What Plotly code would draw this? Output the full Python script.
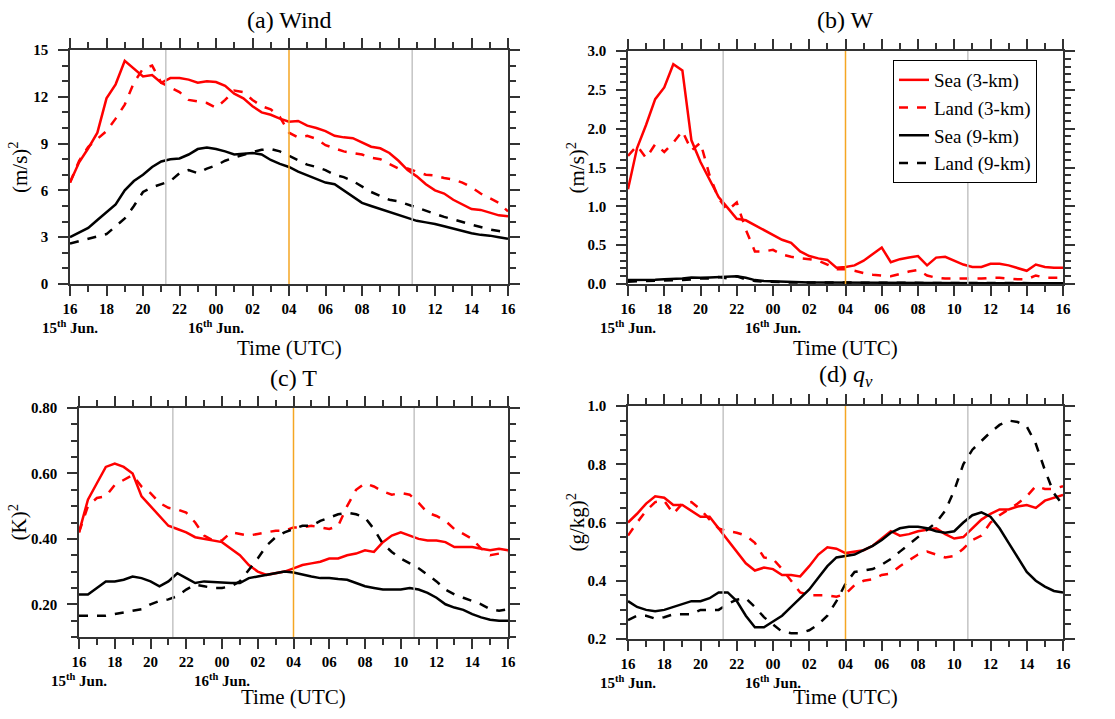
import plotly.graph_objects as go

# time in hours since 16 UTC 15 June, every 30 min
hours = [i * 0.5 for i in range(49)]
tick_vals = [0, 2, 4, 6, 8, 10, 12, 14, 16, 18, 20, 22, 24]
tick_text = ["16<br>15<sup>th</sup> Jun.", "18", "20", "22", "00<br>16<sup>th</sup> Jun.", "02", "04",
             "06", "08", "10", "12", "14", "16"]
gray_lines = [5.25, 18.75]
orange_line = [12]

series_names = ["Sea (3-km)", "Land (3-km)", "Sea (9-km)", "Land (9-km)"]

# (a) Wind
wind_sea3 = [6.5, 7.8, 8.7, 9.7, 11.9, 12.8, 14.3, 13.8, 13.3, 13.4, 12.9, 13.2, 13.2, 13.1, 12.9, 13.0,
             12.95, 12.7, 12.2, 11.9, 11.4, 11.0, 10.85, 10.6, 10.4, 10.45, 10.15, 10.0, 9.8, 9.5, 9.4, 9.35,
             9.1, 8.8, 8.7, 8.4, 7.9, 7.3, 6.9, 6.4, 6.0, 5.8, 5.4, 5.1, 4.8, 4.75, 4.55, 4.4, 4.35]
wind_land3 = [6.5, 7.9, 8.8, 9.3, 9.8, 10.6, 11.5, 12.9, 13.8, 14.0, 12.9, 12.6, 12.3, 11.8, 11.7, 11.6,
              11.3, 11.8, 12.4, 12.3, 11.8, 11.4, 11.2, 10.7, 9.7, 9.4, 9.5, 9.3, 8.9, 8.7, 8.5, 8.4,
              8.3, 8.1, 8.0, 7.7, 7.4, 7.4, 7.2, 7.0, 6.95, 6.8, 6.7, 6.5, 6.2, 5.8, 5.5, 5.2, 4.65]
wind_sea9 = [3.0, 3.3, 3.6, 4.1, 4.6, 5.1, 6.0, 6.6, 7.0, 7.5, 7.85, 8.0, 8.05, 8.3, 8.65, 8.75,
             8.65, 8.5, 8.3, 8.35, 8.4, 8.3, 7.95, 7.7, 7.5, 7.2, 6.95, 6.7, 6.5, 6.4, 6.0, 5.6,
             5.2, 5.0, 4.8, 4.6, 4.4, 4.2, 4.05, 3.95, 3.85, 3.7, 3.55, 3.4, 3.25, 3.15, 3.1, 3.0, 2.9]
wind_land9 = [2.6, 2.75, 2.9, 3.05, 3.2, 3.7, 4.2, 5.0, 5.9, 6.2, 6.4, 6.6, 7.1, 7.3, 7.1, 7.4,
              7.6, 7.9, 8.1, 8.3, 8.45, 8.6, 8.65, 8.5, 8.2, 7.9, 7.65, 7.5, 7.3, 7.0, 6.85, 6.6,
              6.25, 5.9, 5.65, 5.4, 5.3, 5.1, 4.85, 4.65, 4.5, 4.3, 4.15, 3.95, 3.8, 3.65, 3.5, 3.4, 3.3]

# (b) W
w_sea3 = [1.22, 1.75, 2.05, 2.38, 2.53, 2.83, 2.75, 1.85, 1.57, 1.35, 1.12, 0.98, 0.84, 0.82, 0.76, 0.70,
          0.63, 0.57, 0.53, 0.42, 0.36, 0.33, 0.31, 0.21, 0.22, 0.24, 0.30, 0.38, 0.47, 0.28, 0.32, 0.34,
          0.36, 0.24, 0.34, 0.35, 0.30, 0.25, 0.22, 0.22, 0.26, 0.26, 0.24, 0.20, 0.17, 0.25, 0.22, 0.21, 0.21]
w_land3 = [1.65, 1.78, 1.62, 1.80, 1.70, 1.82, 1.97, 1.72, 1.82, 1.40, 1.10, 0.95, 1.05, 0.70, 0.42, 0.42,
           0.44, 0.38, 0.35, 0.33, 0.32, 0.30, 0.25, 0.19, 0.19, 0.17, 0.14, 0.12, 0.11, 0.10, 0.13, 0.16,
           0.18, 0.11, 0.08, 0.07, 0.07, 0.07, 0.07, 0.07, 0.08, 0.08, 0.07, 0.06, 0.06, 0.11, 0.08, 0.08, 0.08]
w_sea9 = [0.05, 0.05, 0.05, 0.055, 0.06, 0.065, 0.07, 0.085, 0.08, 0.085, 0.09, 0.10, 0.10, 0.08, 0.05, 0.04,
          0.035, 0.03, 0.025, 0.02, 0.02, 0.02, 0.02, 0.02, 0.02, 0.018, 0.018, 0.017, 0.016, 0.015, 0.015, 0.015,
          0.014, 0.013, 0.013, 0.012, 0.012, 0.012, 0.011, 0.011, 0.011, 0.01, 0.01, 0.01, 0.01, 0.01, 0.01, 0.01, 0.01]
w_land9 = [0.03, 0.035, 0.04, 0.045, 0.05, 0.05, 0.05, 0.06, 0.07, 0.07, 0.09, 0.07, 0.10, 0.06, 0.04, 0.03,
           0.025, 0.025, 0.02, 0.02, 0.02, 0.02, 0.02, 0.02, 0.025, 0.02, 0.02, 0.02, 0.018, 0.017, 0.016, 0.015,
           0.015, 0.014, 0.014, 0.013, 0.013, 0.012, 0.012, 0.012, 0.011, 0.011, 0.011, 0.01, 0.01, 0.01, 0.01, 0.01, 0.01]

# (c) T
t_sea3 = [0.42, 0.52, 0.57, 0.62, 0.63, 0.62, 0.60, 0.53, 0.50, 0.47, 0.44, 0.43, 0.42, 0.405, 0.40, 0.395,
          0.39, 0.37, 0.35, 0.32, 0.30, 0.29, 0.295, 0.30, 0.31, 0.32, 0.325, 0.33, 0.34, 0.34, 0.35, 0.355,
          0.365, 0.36, 0.39, 0.41, 0.42, 0.41, 0.40, 0.395, 0.395, 0.39, 0.375, 0.375, 0.375, 0.37, 0.365, 0.37, 0.365]
t_land3 = [0.42, 0.50, 0.525, 0.53, 0.565, 0.58, 0.595, 0.56, 0.54, 0.51, 0.495, 0.49, 0.48, 0.45, 0.41, 0.395,
           0.395, 0.42, 0.415, 0.41, 0.415, 0.42, 0.425, 0.425, 0.435, 0.435, 0.44, 0.435, 0.43, 0.44, 0.50, 0.55,
           0.57, 0.56, 0.545, 0.535, 0.54, 0.535, 0.51, 0.48, 0.47, 0.455, 0.43, 0.415, 0.40, 0.37, 0.35, 0.355, 0.36]
t_sea9 = [0.23, 0.23, 0.25, 0.27, 0.27, 0.275, 0.285, 0.28, 0.27, 0.255, 0.27, 0.295, 0.28, 0.265, 0.27, 0.268,
          0.268, 0.265, 0.265, 0.28, 0.285, 0.29, 0.295, 0.30, 0.297, 0.29, 0.285, 0.28, 0.28, 0.277, 0.275, 0.265,
          0.255, 0.25, 0.245, 0.245, 0.245, 0.25, 0.245, 0.235, 0.22, 0.20, 0.19, 0.183, 0.17, 0.16, 0.153, 0.15, 0.15]
t_land9 = [0.165, 0.165, 0.165, 0.165, 0.17, 0.175, 0.18, 0.185, 0.20, 0.21, 0.215, 0.225, 0.245, 0.26, 0.255, 0.25,
           0.25, 0.255, 0.27, 0.305, 0.34, 0.38, 0.405, 0.42, 0.43, 0.44, 0.44, 0.455, 0.465, 0.475, 0.48, 0.475,
           0.465, 0.43, 0.385, 0.36, 0.34, 0.325, 0.31, 0.29, 0.27, 0.245, 0.23, 0.22, 0.21, 0.20, 0.185, 0.18, 0.185]

# (d) qv
q_sea3 = [0.60, 0.63, 0.665, 0.69, 0.685, 0.66, 0.66, 0.64, 0.62, 0.62, 0.58, 0.54, 0.50, 0.46, 0.435, 0.445,
          0.44, 0.42, 0.42, 0.415, 0.45, 0.49, 0.515, 0.51, 0.495, 0.50, 0.505, 0.52, 0.545, 0.57, 0.555, 0.56,
          0.57, 0.575, 0.58, 0.56, 0.545, 0.55, 0.58, 0.61, 0.63, 0.645, 0.645, 0.655, 0.66, 0.65, 0.675, 0.685, 0.695]
q_land3 = [0.555, 0.60, 0.64, 0.67, 0.675, 0.63, 0.665, 0.67, 0.645, 0.61, 0.58, 0.57, 0.565, 0.555, 0.53, 0.48,
           0.475, 0.44, 0.40, 0.36, 0.35, 0.35, 0.35, 0.345, 0.355, 0.385, 0.40, 0.405, 0.42, 0.425, 0.45, 0.47,
           0.49, 0.50, 0.49, 0.48, 0.485, 0.51, 0.54, 0.555, 0.60, 0.625, 0.645, 0.665, 0.69, 0.725, 0.715, 0.715, 0.725]
q_sea9 = [0.33, 0.31, 0.30, 0.295, 0.30, 0.31, 0.32, 0.33, 0.33, 0.34, 0.36, 0.36, 0.33, 0.28, 0.24, 0.24,
          0.26, 0.28, 0.31, 0.34, 0.37, 0.41, 0.45, 0.48, 0.485, 0.49, 0.505, 0.52, 0.54, 0.565, 0.58, 0.585,
          0.585, 0.58, 0.57, 0.565, 0.57, 0.60, 0.625, 0.635, 0.62, 0.58, 0.53, 0.48, 0.43, 0.40, 0.38, 0.365, 0.36]
q_land9 = [0.265, 0.28, 0.28, 0.27, 0.275, 0.285, 0.285, 0.285, 0.30, 0.30, 0.30, 0.32, 0.335, 0.34, 0.31, 0.275,
           0.25, 0.225, 0.22, 0.22, 0.23, 0.25, 0.28, 0.33, 0.39, 0.43, 0.435, 0.44, 0.455, 0.475, 0.50, 0.525,
           0.55, 0.575, 0.60, 0.64, 0.71, 0.80, 0.85, 0.88, 0.91, 0.935, 0.95, 0.945, 0.93, 0.87, 0.78, 0.70, 0.66]

W, H = 1115, 719
SERIF = "Liberation Serif, Times New Roman, serif"
colors = ["#ff0000", "#ff0000", "#000000", "#000000"]
dashes = ["solid", "dash", "solid", "dash"]

panels = [
    dict(title="(a) Wind", ytitle="(m/s)<sup>2</sup>", data=[wind_sea3, wind_land3, wind_sea9, wind_land9],
         box=(70, 508, 50, 284), yrange=[0, 15], tick0=0, dtick=3, minor=1, fmt="d", ytx=18, xt_y=348, tt_y=20),
    dict(title="(b) W", ytitle="(m/s)<sup>2</sup>", data=[w_sea3, w_land3, w_sea9, w_land9],
         box=(628, 1063, 51, 284), yrange=[0, 3.0], tick0=0, dtick=0.5, minor=0.1, fmt=".1f", ytx=576, xt_y=348, tt_y=20),
    dict(title="(c) T", ytitle="(K)<sup>2</sup>", data=[t_sea3, t_land3, t_sea9, t_land9],
         box=(79, 508, 408, 637), yrange=[0.1, 0.8], tick0=0.2, dtick=0.2, minor=0.05, fmt=".2f", ytx=18, xt_y=697, tt_y=378),
    dict(title="(d) <i>q<sub>v</sub></i>", ytitle="(g/kg)<sup>2</sup>", data=[q_sea3, q_land3, q_sea9, q_land9],
         box=(628, 1063, 406, 639), yrange=[0.2, 1.0], tick0=0.2, dtick=0.2, minor=0.05, fmt=".1f", ytx=576, xt_y=697, tt_y=376),
]

fig = go.Figure()
layout = dict(width=W, height=H, margin=dict(l=0, r=0, t=0, b=0, autoexpand=False), paper_bgcolor="white",
              plot_bgcolor="white", font=dict(family=SERIF, color="black"))
annotations = []
shapes = []

for i, p in enumerate(panels):
    n = "" if i == 0 else str(i + 1)
    x0, x1, y0, y1 = p["box"]
    xa, ya = "x" + n, "y" + n
    for k in range(4):
        fig.add_trace(go.Scatter(x=hours, y=p["data"][k], mode="lines", xaxis=xa, yaxis=ya,
                                 name=series_names[k], showlegend=(i == 1),
                                 line=dict(color=colors[k], width=2.5, dash=dashes[k])))
    layout["xaxis" + n] = dict(domain=[x0 / W, x1 / W], anchor=ya, range=[0, 24], tickvals=tick_vals,
                               ticktext=tick_text, tickangle=0, automargin=False,
                               ticks="outside", ticklen=10, tickwidth=1.5,
                               tickcolor="#333", showline=True, linecolor="#333", linewidth=1.5,
                               mirror="ticks", showgrid=False, zeroline=False,
                               tickfont=dict(family=SERIF, size=15, color="black", weight="bold"),
                               minor=dict(dtick=1, tick0=0, ticks="outside", ticklen=6, tickwidth=1.5,
                                          tickcolor="#333", showgrid=False))
    layout["yaxis" + n] = dict(domain=[1 - y1 / H, 1 - y0 / H], anchor=xa, range=p["yrange"],
                               tick0=p["tick0"], dtick=p["dtick"], tickformat=p["fmt"], automargin=False,
                               ticks="outside", ticklen=10, tickwidth=1.5, tickcolor="#333",
                               ticklabelstandoff=7,
                               showline=True, linecolor="#333", linewidth=1.5, mirror="ticks",
                               showgrid=False, zeroline=False,
                               tickfont=dict(family=SERIF, size=15, color="black", weight="bold"),
                               minor=dict(dtick=p["minor"], tick0=p["tick0"], ticks="outside", ticklen=6,
                                          tickwidth=1.5, tickcolor="#333", showgrid=False))
    annotations.append(dict(text=p["title"], x=(x0 + x1) / 2 / W, y=1 - p["tt_y"] / H, xref="paper",
                            yref="paper", xanchor="center", yanchor="middle", showarrow=False,
                            font=dict(family=SERIF, size=24, color="black")))
    annotations.append(dict(text="Time (UTC)", x=(x0 + x1) / 2 / W, y=1 - p["xt_y"] / H, xref="paper",
                            yref="paper", xanchor="center", yanchor="middle", showarrow=False,
                            font=dict(family=SERIF, size=21, color="black")))
    annotations.append(dict(text=p["ytitle"], x=p["ytx"] / W, y=1 - (y0 + y1) / 2 / H, xref="paper",
                            yref="paper", xanchor="center", yanchor="middle", textangle=-90, showarrow=False,
                            font=dict(family=SERIF, size=21, color="black")))
    for gx in gray_lines:
        shapes.append(dict(type="line", xref=xa, yref=ya + " domain", x0=gx, x1=gx, y0=0, y1=1,
                           line=dict(color="#c4c4c4", width=1.5)))
    for ox in orange_line:
        shapes.append(dict(type="line", xref=xa, yref=ya + " domain", x0=ox, x1=ox, y0=0, y1=1,
                           line=dict(color="#f5a623", width=1.5)))

layout["annotations"] = annotations
layout["shapes"] = shapes
layout["legend"] = dict(x=893 / W, y=1 - 60 / H, xanchor="left", yanchor="top", bgcolor="white",
                        bordercolor="black", borderwidth=1, font=dict(family=SERIF, size=19, color="black"),
                        tracegroupgap=0, itemwidth=30)
fig.update_layout(**layout)
fig.write_html("out.html", config={"displayModeBar": False},
               post_script="document.body.style.margin='0px';")
